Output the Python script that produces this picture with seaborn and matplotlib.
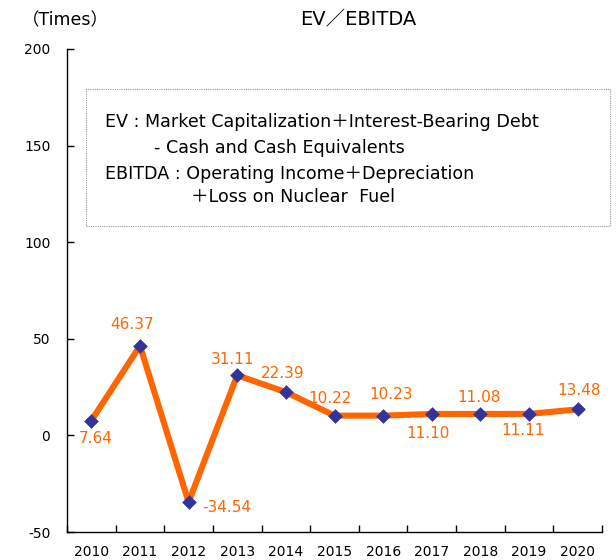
import numpy as np
import pandas as pd
import seaborn as sns
import matplotlib.pyplot as plt
from matplotlib.patches import Rectangle

# chart data
years = ['2010', '2011', '2012', '2013', '2014', '2015', '2016', '2017', '2018', '2019', '2020']
ev_ebitda = [7.64, 46.37, -34.54, 31.11, 22.39, 10.22, 10.23, 11.10, 11.08, 11.11, 13.48]
y_ticks = [-50, 0, 50, 100, 150, 200]

# label placement (pixel offsets from each point)
label_offsets = [(4, -18), (-8, 21), (38, -5), (-5, 16), (-3, 19), (-4, 17),
                 (8, 21), (-4, -20), (-1, 16), (-6, -17), (1, 19)]

ORANGE = '#FF6600'
NAVY = '#333399'

sns.set_theme(style='white')
plt.rcParams['font.family'] = ['DejaVu Sans', 'Noto Sans CJK JP']
plt.rcParams['text.color'] = 'black'

W, H = 616, 560
fig = plt.figure(figsize=(W / 100, H / 100), dpi=100)
ax = fig.add_axes([67 / W, 1 - 532 / H, 535 / W, 483 / H])

df = pd.DataFrame({'year': years, 'value': ev_ebitda})
sns.lineplot(data=df, x='year', y='value', color=ORANGE, linewidth=4.4, ax=ax, sort=False)
sns.scatterplot(data=df, x='year', y='value', marker='D', color=NAVY, s=56,
                linewidth=0, ax=ax, zorder=5)

for i, (v, (dx, dy)) in enumerate(zip(ev_ebitda, label_offsets)):
    ax.annotate(f'{v:.2f}', (i, v), xytext=(dx, dy), textcoords='offset pixels',
                ha='center', va='center', color=ORANGE, fontsize=11)

ax.set_xlim(-0.5, len(years) - 0.5)
ax.set_ylim(-50, 200)
ax.set_yticks(y_ticks)
ax.set_yticklabels([str(t) for t in y_ticks])
ax.set_xticks(range(len(years)))
ax.set_xticklabels(years)
ax.set_xticks(np.arange(-0.5, len(years), 1.0), minor=True)
ax.tick_params(axis='x', which='major', length=0, pad=9, labelsize=10, colors='black')
ax.tick_params(axis='x', which='minor', direction='in', length=5, width=1, color='black', bottom=True)
ax.tick_params(axis='y', direction='in', length=5, width=1, pad=12, labelsize=10, colors='black', left=True)
ax.set_xlabel('')
ax.set_ylabel('')
for side in ['top', 'right']:
    ax.spines[side].set_visible(False)
for side in ['left', 'bottom']:
    ax.spines[side].set_color('black')
    ax.spines[side].set_linewidth(1)

# headings
fig.text(65 / W, 1 - 20 / H, '（Times）', ha='center', va='center', fontsize=12.5)
fig.text(358 / W, 1 - 20 / H, 'EV／EBITDA', ha='center', va='center', fontsize=14)

# definition box
fig.patches.append(Rectangle((86 / W, 1 - 226 / H), (610 - 86) / W, (226 - 89) / H,
                             transform=fig.transFigure, fill=False, edgecolor='#999999',
                             linestyle=(0, (1, 1)), linewidth=0.8))
box_lines = [
    (105, 122, 'EV : Market Capitalization＋Interest-Bearing Debt'),
    (154, 148, '- Cash and Cash Equivalents'),
    (105, 174, 'EBITDA : Operating Income＋Depreciation'),
    (191, 197, '＋Loss on Nuclear  Fuel'),
]
for x, y, s in box_lines:
    fig.text(x / W, 1 - y / H, s, ha='left', va='center', fontsize=12.6)

fig.savefig('out.png', dpi=100)
